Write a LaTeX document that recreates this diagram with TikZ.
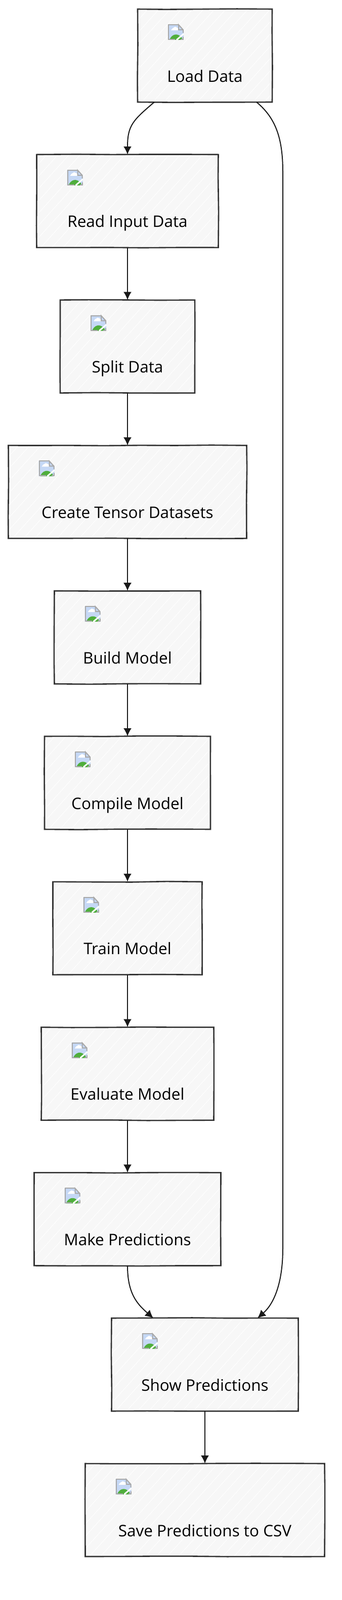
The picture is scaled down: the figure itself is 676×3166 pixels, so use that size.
\documentclass[tikz,border=0pt]{standalone}
\usepackage{fontspec}
\setmainfont{Open Sans}
\usetikzlibrary{arrows.meta,positioning,decorations.pathmorphing}
\definecolor{inkline}{HTML}{333333}
\definecolor{boxfill}{HTML}{F7F7F7}
\definecolor{iconsky}{HTML}{C5D8F5}
\definecolor{icongreen}{HTML}{4FAE3C}
\definecolor{icongray}{HTML}{A8A8A8}

\begin{document}
\begin{tikzpicture}[
  x=1pt, y=1pt,
  >={Latex[length=16pt,width=16pt]},
  node distance=103.8pt,
  stepbox/.style={draw=inkline, line width=2.6pt, fill=boxfill, inner sep=0pt, outer sep=0pt, align=center,
    font=\fontsize{31.5}{38}\selectfont, text height=144pt, text depth=40pt,
    decorate, decoration={random steps, segment length=70pt, amplitude=0.7pt},
    path picture={
      \foreach \k in {-300,-278,...,500}
        \draw[white, line width=1pt] ([xshift=\k pt]path picture bounding box.south west) -- ++(190,210);
    }},
  flow/.style={->, line width=2pt, black!90},
  brokenimg/.pic={
    \fill[iconsky] (0,0) -- (20,0) -- (31,-11) -- (31,-31) -- (0,-31) -- cycle;
    \fill[white] (6,-12) -- (22,-12) -- (19,-7) -- (14,-5) -- (9,-8) -- cycle;
    \fill[icongreen] (3,-31) .. controls (7,-20) and (18,-16) .. (27,-26) -- (29,-31) -- cycle;
    \draw[white, line width=3pt] (17,-31) -- (31,-19);
    \draw[icongray, line width=2pt] (21,-1) -- (1,-1) -- (1,-30) -- (14,-30);
    \draw[icongray, line width=2pt] (25,-30) -- (30,-30) -- (30,-25);
    \draw[icongray, line width=2pt] (30,-17) -- (30,-11) -- (21,-1) -- (21,-11) -- (30,-11);
  }
]

\node[stepbox, minimum width=266pt] (load) at (405,-110) {Load Data};
\node[stepbox, minimum width=359pt, below=of load, xshift=-153pt] (read) {Read Input Data};
\node[stepbox, minimum width=266pt, below=of read] (split) {Split Data};
\node[stepbox, minimum width=471pt, below=of split] (create) {Create Tensor Datasets};
\node[stepbox, minimum width=289pt, below=of create] (build) {Build Model};
\node[stepbox, minimum width=328pt, below=of build] (compile) {Compile Model};
\node[stepbox, minimum width=295pt, below=of compile] (train) {Train Model};
\node[stepbox, minimum width=341pt, below=of train] (evaluate) {Evaluate Model};
\node[stepbox, minimum width=369pt, below=of evaluate] (make) {Make Predictions};
\node[stepbox, minimum width=369pt, below=of make, xshift=153pt] (show) {Show Predictions};
\node[stepbox, minimum width=473pt, below=of show] (save) {Save Predictions to CSV};

\foreach \name in {load,read,split,create,build,compile,train,evaluate,make,show,save}
  \pic at ([xshift=60pt,yshift=-30pt]\name.north west) {brokenimg};

\coordinate (bypasstop) at (559,-340);
\coordinate (bypassbot) at (559,-2470);

\draw[flow] ([xshift=-100pt]load.south) .. controls +(-42,-36) and +(0,58) .. (read.north);
\draw[flow] (read) -- (split);
\draw[flow] (split) -- (create);
\draw[flow] (create) -- (build);
\draw[flow] (build) -- (compile);
\draw[flow] (compile) -- (train);
\draw[flow] (train) -- (evaluate);
\draw[flow] (evaluate) -- (make);
\draw[flow] (make.south) .. controls +(0,-55) and +(-32,28) .. ([xshift=-102pt]show.north);
\draw[flow] ([xshift=102pt]load.south) .. controls +(36,-30) and +(0,70) .. (bypasstop)
  -- (bypassbot) .. controls +(0,-70) and +(32,28) .. ([xshift=104pt]show.north);
\draw[flow] (show) -- (save);

\useasboundingbox (0,0) rectangle (676,-3166);
\end{tikzpicture}
\end{document}
